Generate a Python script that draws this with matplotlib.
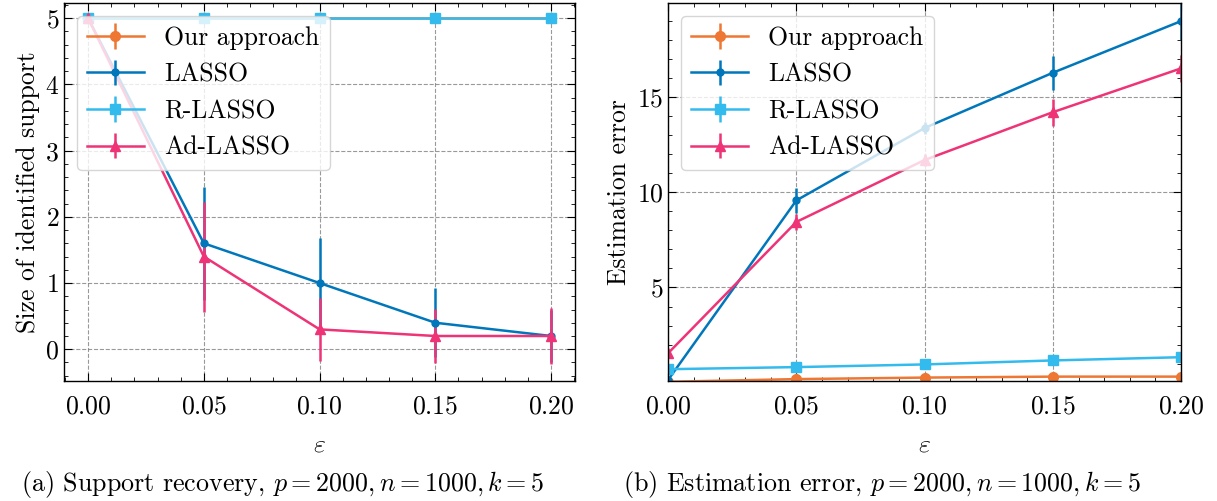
import matplotlib
matplotlib.use("Agg")
import matplotlib.pyplot as plt
from matplotlib.ticker import MultipleLocator

eps = [0.0, 0.05, 0.10, 0.15, 0.20]
methods = ["Our approach", "LASSO", "R-LASSO", "Ad-LASSO"]
colors = ["#EE7733", "#0077BB", "#33BBEE", "#EE3377"]
markers = ["o", ".", "s", "^"]

# (a) support size
support_mean = {
    "Our approach": [5, 5, 5, 5, 5],
    "LASSO": [5, 1.6, 1.0, 0.4, 0.2],
    "R-LASSO": [5, 5, 5, 5, 5],
    "Ad-LASSO": [5, 1.4, 0.3, 0.2, 0.2],
}
support_err = {
    "Our approach": [0, 0, 0, 0, 0],
    "LASSO": [0, 0.85, 0.68, 0.52, 0.4],
    "R-LASSO": [0, 0, 0, 0, 0],
    "Ad-LASSO": [0, 0.83, 0.48, 0.41, 0.42],
}

# (b) estimation error
err_mean = {
    "Our approach": [0.05, 0.19, 0.27, 0.32, 0.32],
    "LASSO": [0.15, 9.57, 13.37, 16.27, 18.98],
    "R-LASSO": [0.71, 0.82, 0.96, 1.17, 1.34],
    "Ad-LASSO": [1.55, 8.44, 11.69, 14.2, 16.5],
}
err_err = {
    "Our approach": [0.02, 0.03, 0.03, 0.03, 0.03],
    "LASSO": [0.1, 0.65, 0.3, 0.9, 1.0],
    "R-LASSO": [0.1, 0.05, 0.05, 0.05, 0.05],
    "Ad-LASSO": [0.1, 0.4, 0.3, 0.7, 0.7],
}

plt.rcParams.update({
    "font.family": "serif",
    "font.serif": ["cmr10"],
    "mathtext.fontset": "cm",
    "axes.formatter.use_mathtext": True,
    "font.size": 18.5,
    "xtick.direction": "in",
    "ytick.direction": "in",
    "xtick.top": True,
    "ytick.right": True,
    "xtick.minor.visible": True,
    "ytick.minor.visible": True,
    "xtick.major.size": 6,
    "ytick.major.size": 6,
    "xtick.minor.size": 3,
    "ytick.minor.size": 3,
    "axes.linewidth": 1.0,
})

fig = plt.figure(figsize=(12.17, 5.01), dpi=100)
ax1 = fig.add_axes([0.0526, 0.2395, 0.42, 0.7545])
ax2 = fig.add_axes([0.549, 0.2395, 0.4215, 0.7545])


def draw(ax, means, errs):
    for m, c, mk in zip(methods, colors, markers):
        ms = 10 if mk == "." else 7
        ax.errorbar(eps, means[m], yerr=errs[m], color=c, marker=mk, markersize=ms,
                    linewidth=1.8, elinewidth=1.8, label=m)
    ax.grid(True, linestyle="--", color="gray", linewidth=0.8, alpha=0.8)
    ax.set_xlabel(r"$\varepsilon$", labelpad=10)
    ax.xaxis.set_major_locator(MultipleLocator(0.05))
    ax.xaxis.set_minor_locator(MultipleLocator(0.01))
    ax.tick_params(axis="x", pad=10)
    leg = ax.legend(loc="upper left", framealpha=0.8, fancybox=True, handlelength=2.2,
                    borderaxespad=0.5)
    leg.get_frame().set_edgecolor("#cccccc")


draw(ax1, support_mean, support_err)
ax1.set_xlim(-0.0104, 0.2104)
ax1.set_ylim(-0.48, 5.23)
ax1.yaxis.set_major_locator(MultipleLocator(1))
ax1.yaxis.set_minor_locator(MultipleLocator(0.2))
ax1.set_ylabel("Size of identified support")

draw(ax2, err_mean, err_err)
ax2.set_xlim(0, 0.2)
ax2.set_ylim(0.09, 19.93)
ax2.yaxis.set_major_locator(MultipleLocator(5))
ax2.yaxis.set_minor_locator(MultipleLocator(1))
ax2.set_ylabel("Estimation error")
ax2.set_yticks([5, 10, 15])

fig.text(283 / 1217, 1 - 484 / 501, r"(a) Support recovery, $p = 2000, n = 1000, k = 5$",
         ha="center", va="center", fontsize=18.7)
fig.text(882 / 1217, 1 - 484 / 501, r"(b) Estimation error, $p = 2000, n = 1000, k = 5$",
         ha="center", va="center", fontsize=18.7)

fig.savefig("out.png", dpi=100)
